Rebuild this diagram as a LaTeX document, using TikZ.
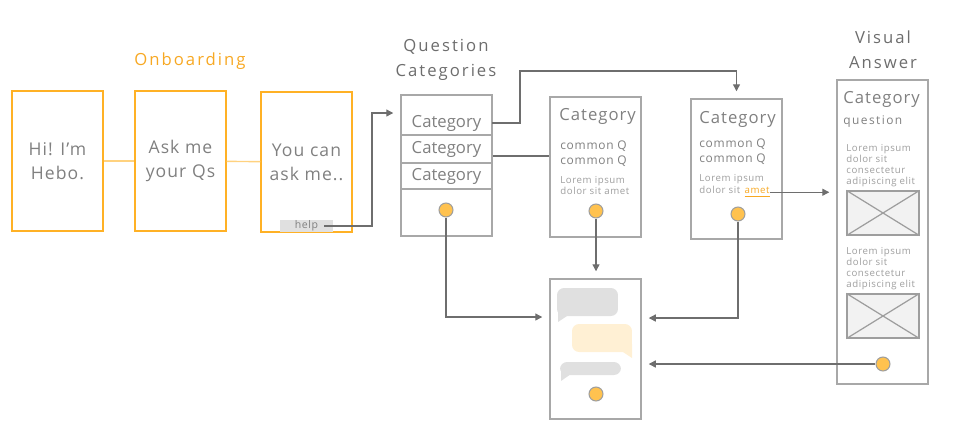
\documentclass[tikz,border=0pt]{standalone}
\usepackage{fontspec}
\setmainfont{Open Sans}
\newfontfamily\widefont[LetterSpace=12]{Open Sans}
\newfontfamily\loosefont[LetterSpace=6]{Open Sans}
\usetikzlibrary{arrows.meta}

\definecolor{onorange}{HTML}{FFB125}
\definecolor{onlight}{HTML}{FFD27F}
\definecolor{titleorange}{HTML}{F7A823}
\definecolor{boxgray}{HTML}{A8A8A8}
\definecolor{textgray}{HTML}{808080}
\definecolor{softgray}{HTML}{9E9E9E}
\definecolor{linegray}{HTML}{6E6E6E}
\definecolor{knobfill}{HTML}{FFC24F}
\definecolor{bubblegray}{HTML}{E0E0E0}
\definecolor{bubbleyellow}{HTML}{FFF0D4}
\definecolor{imgfill}{HTML}{F2F2F2}

\tikzset{
  screen/.style={draw=boxgray, line width=0.8pt, minimum width=1.82cm, minimum height=2.8cm, inner sep=0pt},
  onscreen/.style={screen, draw=onorange, text=textgray, align=center, font=\loosefont\fontsize{10}{13.7}\selectfont},
  heading/.style={text=textgray!85!black, align=center, font=\widefont\fontsize{9.5}{14}\selectfont},
  label/.style={anchor=west, inner sep=0pt, text=textgray, align=left},
  small/.style={label, text=softgray, font=\loosefont\fontsize{5.5}{6.3}\selectfont},
  knob/.style={circle, draw=softgray, fill=knobfill, minimum size=0.28cm, inner sep=0pt, line width=0.6pt},
  link/.style={draw=linegray, line width=0.7pt, -{Triangle[length=4pt,width=4pt]}, shorten >=4pt},
  wire/.style={draw=linegray, line width=0.7pt},
  picture/.style={draw=softgray, fill=imgfill, line width=0.7pt, minimum width=1.44cm, minimum height=0.88cm, inner sep=0pt},
  bubble/.style={rounded corners=4pt, inner sep=0pt},
}

\begin{document}
\begin{tikzpicture}[x=0.02cm, y=-0.02cm]
    \useasboundingbox (0,0) rectangle (961,437);

    % Onboarding
    \node[text=titleorange, font=\widefont\fontsize{9.5}{12}\selectfont] at (190, 61) (onboarding) {Onboarding};
    \node[onscreen] at (57.5, 161) (hi) {Hi! I’m\\Hebo.};
    \node[onscreen] at (180.5, 161) (askme) {Ask me\\your Qs};
    \node[onscreen] at (306.5, 162) (youcan) {You can\\ask me..};
    \node[fill=bubblegray, minimum width=1.06cm, minimum height=0.23cm, inner sep=0pt, text=textgray, font=\loosefont\fontsize{6}{7}\selectfont] at (306.5, 226) (help) {help\hspace{0.3cm}};
    \draw[onlight, line width=0.8pt] (hi) -- (askme);
    \draw[onlight, line width=0.8pt] (askme) -- (youcan);

    % Question Categories
    \node[heading] at (446, 60) (qctitle) {Question\\Categories};
    \node[screen, minimum height=2.82cm] at (446.5, 165.5) (qc) {};
    \node[text=textgray, font=\fontsize{9.5}{11}\selectfont, minimum width=1.82cm, inner sep=0pt] at (446.5, 123) (catA) {Category};
    \node[draw=boxgray, line width=0.8pt, text=textgray, font=\fontsize{9.5}{11}\selectfont, minimum width=1.82cm, minimum height=0.56cm, inner sep=0pt] at (446.5, 149) (catB) {Category};
    \node[draw=boxgray, line width=0.8pt, text=textgray, font=\fontsize{9.5}{11}\selectfont, minimum width=1.82cm, minimum height=0.52cm, inner sep=0pt] at (446.5, 176) (catC) {Category};
    \node[knob] at (446, 210) (qcknob) {};

    % Category (primo)
    \node[screen] at (595.5, 167) (catone) {};
    \node[label, font=\loosefont\fontsize{9.5}{11}\selectfont] at (559, 116) (catonetitle) {Category};
    \node[label, font=\loosefont\fontsize{6.8}{8.4}\selectfont] at (560, 153.5) (catoneq) {common Q\\common Q};
    \node[small] at (560, 185.5) (catonelorem) {Lorem ipsum\\dolor sit amet};
    \node[knob] at (596, 211) (catoneknob) {};

    % Category (secondo)
    \node[screen] at (736.5, 169) (cattwo) {};
    \node[label, font=\loosefont\fontsize{9.5}{11}\selectfont] at (699, 119) (cattwotitle) {Category};
    \node[label, font=\loosefont\fontsize{6.8}{8.4}\selectfont] at (699, 152) (cattwoq) {common Q\\common Q};
    \node[small] at (699, 179) (cattwolorem) {Lorem ipsum};
    \node[small] at (699, 190) (cattwodolor) {dolor sit};
    \node[small, anchor=base west, text=titleorange] at ([xshift=2pt]cattwodolor.base east) (amet) {\underline{amet}};
    \node[knob] at (738, 214) (cattwoknob) {};

    % Visual Answer
    \node[heading] at (883, 50) (vatitle) {Visual\\Answer};
    \node[screen, minimum height=6.08cm] at (882.5, 232) (va) {};
    \node[label, font=\loosefont\fontsize{9.5}{11}\selectfont] at (843, 99) (vacategory) {Category};
    \node[label, font=\widefont\fontsize{6.8}{8}\selectfont] at (843, 122) (vaquestion) {question};
    \node[small] at (846, 166) (valoremone) {Lorem ipsum\\dolor sit\\consectetur\\adipiscing elit};
    \node[picture] at (883, 213) (imgone) {};
    \draw[softgray, line width=0.7pt] (imgone.north west) -- (imgone.south east) (imgone.south west) -- (imgone.north east);
    \node[small] at (846, 269) (valoremtwo) {Lorem ipsum\\dolor sit\\consectetur\\adipiscing elit};
    \node[picture] at (883, 316) (imgtwo) {};
    \draw[softgray, line width=0.7pt] (imgtwo.north west) -- (imgtwo.south east) (imgtwo.south west) -- (imgtwo.north east);
    \node[knob] at (883, 364) (vaknob) {};

    % Chat
    \node[screen] at (595.5, 349) (chat) {};
    \fill[bubblegray] (558, 322) -- (558, 308) -- (570, 314) -- cycle;
    \node[bubble, fill=bubblegray, minimum width=1.22cm, minimum height=0.56cm] at (587.5, 302) (msgone) {};
    \fill[bubbleyellow] (632, 358) -- (632, 344) -- (620, 350) -- cycle;
    \node[bubble, fill=bubbleyellow, minimum width=1.2cm, minimum height=0.56cm] at (602, 338) (msgtwo) {};
    \fill[bubblegray] (561, 381) -- (561, 370) -- (571, 374) -- cycle;
    \node[bubble, fill=bubblegray, minimum width=1.22cm, minimum height=0.26cm] at (590.5, 368.5) (msgthree) {};
    \node[knob] at (596, 394) (chatknob) {};

    % Frecce
    \coordinate (helpturn) at (372, 113);
    \coordinate (topturn) at (520, 71);
    \draw[link] ([xshift=-0.18cm]help.east) -| (helpturn) -- (qc.west |- helpturn);
    \draw[link] (catA.east) -| (topturn) -| (cattwo.north);
    \draw[wire] ([yshift=-0.14cm]catB.east) -- ([yshift=-0.14cm]catone.west |- catB.east);
    \draw[link] (qcknob) |- ([yshift=0.64cm]chat.west);
    \draw[link] (catoneknob) -- (catoneknob |- chat.north);
    \draw[link] (cattwoknob) |- ([yshift=0.62cm]chat.east);
    \draw[link] (amet.east) -- (va.west |- amet.east);
    \draw[link] (vaknob) -- (chat.east |- vaknob);
\end{tikzpicture}
\end{document}
